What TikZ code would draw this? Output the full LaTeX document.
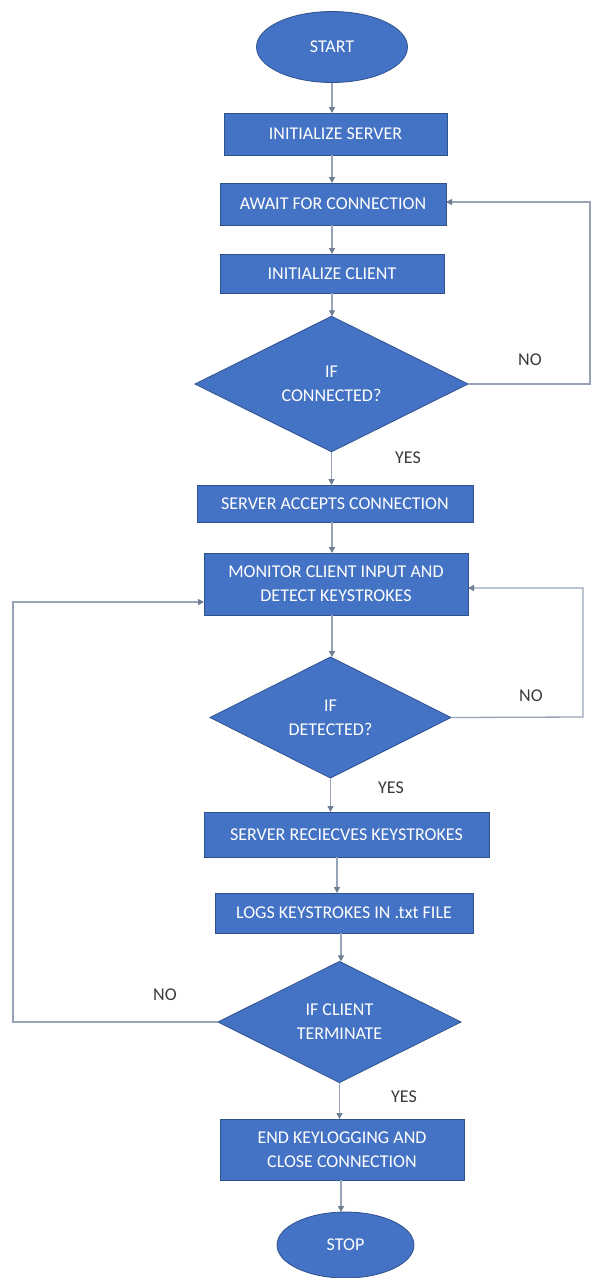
\documentclass[tikz,border=0pt]{standalone}
\usepackage{fontspec}
\setmainfont{Carlito}
\usetikzlibrary{shapes.geometric,arrows.meta,calc}
\definecolor{boxfill}{HTML}{4472C4}
\definecolor{boxdraw}{HTML}{2F528F}
\definecolor{linec}{HTML}{97A3B6}
\definecolor{tipc}{HTML}{6F7D92}
\definecolor{labc}{HTML}{3A3A3A}
\tikzset{
  base/.style={fill=boxfill, draw=boxdraw, line width=0.8pt, text=white, inner sep=0pt, outer sep=0pt,
    font=\fontsize{18}{24}\selectfont, align=center},
  procbox/.style={base, rectangle, minimum width=#1},
  termbox/.style={base, ellipse},
  decbox/.style={base, diamond},
  arr/.style={draw=linec, line width=1.3pt, -{Triangle[length=6pt,width=6pt,color=tipc]}},
  lab/.style={text=labc, font=\fontsize{18}{22}\selectfont, inner sep=0pt}
}
\begin{document}
\begin{tikzpicture}[x=1pt,y=-1pt]
\useasboundingbox (0,0) rectangle (592,1278);
\fill[white] (0,0) rectangle (592,1278);

\node[termbox, minimum width=151pt, minimum height=71pt] (start) at (332,47) {START};
\node[procbox=223pt, minimum height=42pt] (initS) at (335.5,134) {INITIALIZE SERVER};
\node[procbox=226pt, minimum height=42pt] (await) at (333,204) {AWAIT FOR CONNECTION};
\node[procbox=224pt, minimum height=39pt] (initC) at (332,273.5) {INITIALIZE CLIENT};
\node[decbox, minimum width=273pt, minimum height=122pt] (dconn) at (331.5,384) {IF\\CONNECTED?};
\node[procbox=276pt, minimum height=37pt] (accept) at (335,503.5) {SERVER ACCEPTS CONNECTION};
\node[procbox=264pt, minimum height=62pt] (monitor) at (336,584) {MONITOR CLIENT INPUT AND\\DETECT KEYSTROKES};
\node[decbox, minimum width=241pt, minimum height=121pt] (ddet) at (330.5,717.5) {IF\\DETECTED?};
\node[procbox=285pt, minimum height=45pt] (recv) at (346.5,834.5) {SERVER RECIECVES KEYSTROKES};
\node[procbox=258pt, minimum height=40pt] (logs) at (344,913) {LOGS KEYSTROKES IN .txt FILE};
\node[decbox, minimum width=243pt, minimum height=120pt] (dterm) at (339.5,1022) {IF CLIENT\\TERMINATE};
\node[procbox=244pt, minimum height=61pt] (endk) at (342,1149.5) {END KEYLOGGING AND\\CLOSE CONNECTION};
\node[termbox, minimum width=137pt, minimum height=66pt] (stop) at (345.5,1245) {STOP};

% main flow
\draw[arr] (start.south) -- (start.south |- initS.north);
\draw[arr] ([xshift=-3.5pt]initS.south) -- ([xshift=-3.5pt]initS.south |- await.north);
\draw[arr] ([xshift=-1pt]await.south) -- ([xshift=-1pt]await.south |- initC.north);
\draw[arr] (initC.south) -- (initC.south |- dconn.north);
\draw[arr] (dconn.south) -- (dconn.south |- accept.north);
\draw[arr] ([xshift=-3pt]accept.south) -- ([xshift=-3pt]accept.south |- monitor.north);
\draw[arr] ([xshift=-4pt]monitor.south) -- ([xshift=-4pt]monitor.south |- ddet.north);
\draw[arr] (ddet.south) -- (ddet.south |- recv.north);
\draw[arr] ([xshift=-9.5pt]recv.south) -- ([xshift=-9.5pt]recv.south |- logs.north);
\draw[arr] ([xshift=-3pt]logs.south) -- ([xshift=-3pt]logs.south |- dterm.north);
\draw[arr] (dterm.south) -- (dterm.south |- endk.north);
\draw[arr] ([xshift=-1pt]endk.south) -- ([xshift=-1pt]endk.south |- stop.north);

% loops
\coordinate (c1) at (590,384);
\draw[arr] (dconn.east) -- (c1) |- ([yshift=2pt]await.east);
\coordinate (c2) at (583,717);
\draw[arr] (ddet.east) -- (c2) |- ([yshift=-4pt]monitor.east);
\coordinate (c3) at (13,1022);
\draw[arr] (dterm.west) -- (c3) |- ([yshift=-18pt]monitor.west);

% labels
\node[lab] (l1) at (530,360) {NO};
\node[lab] (l2) at (408,458) {YES};
\node[lab] (l3) at (531,696) {NO};
\node[lab] (l4) at (391,788) {YES};
\node[lab] (l5) at (165,995) {NO};
\node[lab] (l6) at (404,1097) {YES};
\end{tikzpicture}
\end{document}
